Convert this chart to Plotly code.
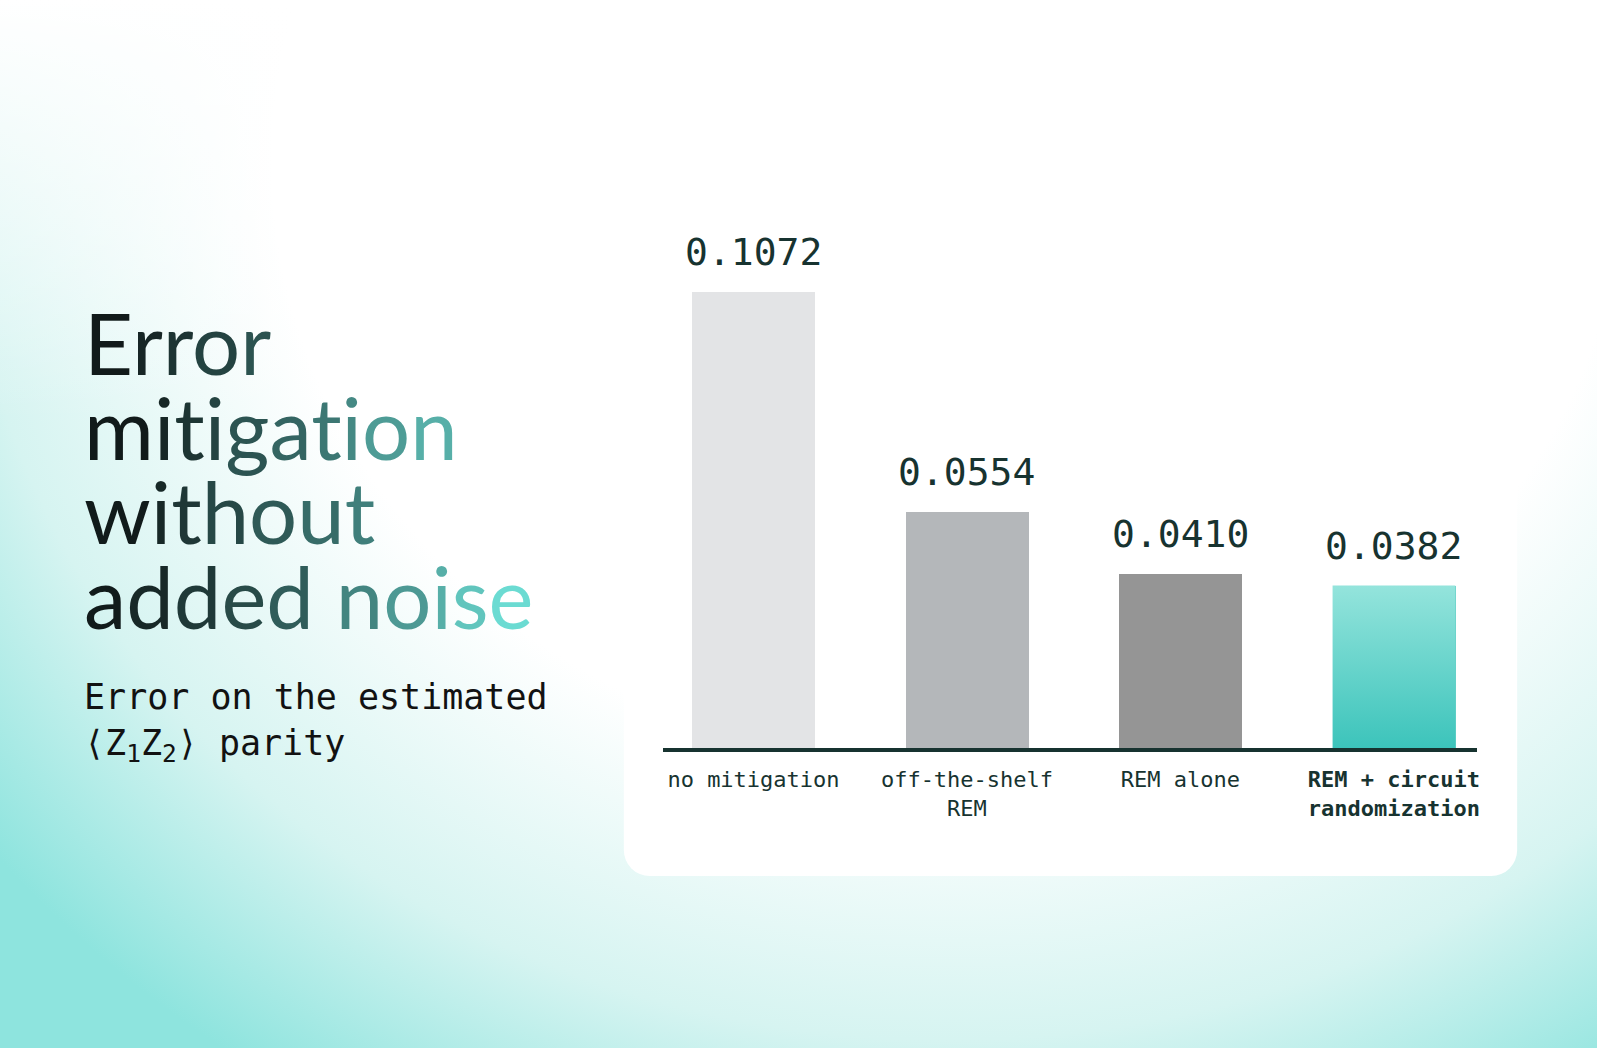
import base64
import plotly.graph_objects as go

# data
categories = ["no mitigation", "off-the-shelf REM", "REM alone", "REM + circuit randomization"]
tick_labels = ["no mitigation", "off-the-shelf<br>REM", "REM alone", "<b>REM + circuit<br>randomization</b>"]
errors = [0.1072, 0.0554, 0.0410, 0.0382]
value_labels = ["0.1072", "0.0554", "0.0410", "0.0382"]

title_lines = ["Error", "mitigation", "without", "added noise"]
subtitle = "Error on the estimated<br>\u27e8Z<sub>1</sub>Z<sub>2</sub>\u27e9 parity"

W, H = 1600, 1048
bar_colors = ["#e3e4e6", "#b4b7ba", "#959595", "#66d0c7"]
ink = "#173330"
mono = "DejaVu Sans Mono"
bar_w = 0.575

x_idx = list(range(len(categories)))


def title_color(px):
    # dark -> teal, left to right, slightly eased
    t = min(max((px - 84) / (545 - 84), 0), 1) ** 1.2
    a, b = (15, 22, 22), (111, 227, 218)
    return "#%02x%02x%02x" % tuple(round(a[k] + (b[k] - a[k]) * t) for k in range(3))


def gradient_text(s, width):
    out = ""
    for i, ch in enumerate(s):
        px = 84 + width * (i + 0.5) / len(s)
        out += ('<span style="color:%s;font-size:85px;font-variant-ligatures:none">%s</span>'
                % (title_color(px), ch))
    return out


# background: soft teal vignette + white card
svg = f"""<svg xmlns='http://www.w3.org/2000/svg' width='{W}' height='{H}' viewBox='0 0 {W} {H}' preserveAspectRatio='none'>
<defs>
<radialGradient id='g' gradientUnits='userSpaceOnUse' cx='950' cy='160' r='1100'
 gradientTransform='translate(950 160) scale(1.12 1) translate(-950 -160)'>
<stop offset='0.55' stop-color='#ffffff'/>
<stop offset='0.8' stop-color='#d6f4f1'/>
<stop offset='1' stop-color='#8ee4de'/>
</radialGradient>
<linearGradient id='t' x1='0' y1='0' x2='0' y2='1'>
<stop offset='0' stop-color='#ffffff' stop-opacity='1'/>
<stop offset='0.4' stop-color='#ffffff' stop-opacity='0'/>
</linearGradient>
</defs>
<rect width='{W}' height='{H}' fill='url(#g)'/>
<rect width='{W}' height='{H}' fill='url(#t)'/>
<rect x='625' y='140' width='895' height='736' rx='26' ry='26' fill='#ffffff'/>
</svg>"""
bg = "data:image/svg+xml;base64," + base64.b64encode(svg.encode()).decode()

fig = go.Figure()

fig.add_trace(go.Bar(
    x=x_idx, y=errors, width=bar_w,
    marker=dict(color=bar_colors, line=dict(width=0)),
    hovertext=categories, hoverinfo="text+y",
))

# gradient overlay for the highlighted bar
i = len(errors) - 1
fig.add_trace(go.Scatter(
    x=[x_idx[i] - bar_w / 2, x_idx[i] + bar_w / 2, x_idx[i] + bar_w / 2, x_idx[i] - bar_w / 2, x_idx[i] - bar_w / 2],
    y=[0, 0, errors[i], errors[i], 0],
    mode="lines", line=dict(width=0), fill="toself",
    fillgradient=dict(type="vertical", colorscale=[[0, "#3cc4bb"], [1, "#94e4dc"]]),
    hoverinfo="skip", showlegend=False,
))

annotations = []
for xi, v, lab in zip(x_idx, errors, value_labels):
    annotations.append(dict(
        x=xi, y=v, xref="x", yref="y", text=lab, showarrow=False,
        xanchor="center", yanchor="bottom", yshift=16,
        font=dict(family=mono, size=38, color=ink),
    ))

# title: one block, line pitch set by the base font size (65 * 1.3 ~ 84px)
line_widths = [187, 380, 285, 467]
title_html = "<br>".join(gradient_text(t, w) for t, w in zip(title_lines, line_widths))
annotations.append(dict(
    x=82 / W, y=1 - 289 / H, xref="paper", yref="paper",
    text=title_html, showarrow=False,
    xanchor="left", yanchor="top", align="left",
    font=dict(family="Lato", size=65, color="#111111"),
))

annotations.append(dict(
    x=82 / W, y=1 - 770 / H, xref="paper", yref="paper",
    text=subtitle, showarrow=False, xanchor="left", yanchor="bottom", align="left",
    font=dict(family=mono, size=35, color="#121212"),
))

fig.update_layout(
    width=W, height=H,
    margin=dict(l=0, r=0, t=0, b=0),
    paper_bgcolor="#ffffff", plot_bgcolor="rgba(0,0,0,0)",
    showlegend=False, bargap=0,
    images=[dict(source=bg, xref="paper", yref="paper", x=0, y=1, sizex=1, sizey=1,
                 xanchor="left", yanchor="top", sizing="stretch", layer="below")],
    annotations=annotations,
    xaxis=dict(
        domain=[664 / W, 1480 / W], range=[-0.425, 3.39],
        tickvals=x_idx, ticktext=tick_labels, ticks="",
        showline=True, linecolor=ink, linewidth=4,
        showgrid=False, zeroline=False, fixedrange=True,
        tickfont=dict(family=mono, size=22, color=ink),
        ticklabelstandoff=9,
    ),
    yaxis=dict(
        domain=[1 - 748 / H, 1 - 150 / H], range=[0, (748 - 150) / 4254],
        visible=False, fixedrange=True,
    ),
)

fig.write_html("out.html", config={"displayModeBar": False},
               post_script="document.body.style.margin='0';")
